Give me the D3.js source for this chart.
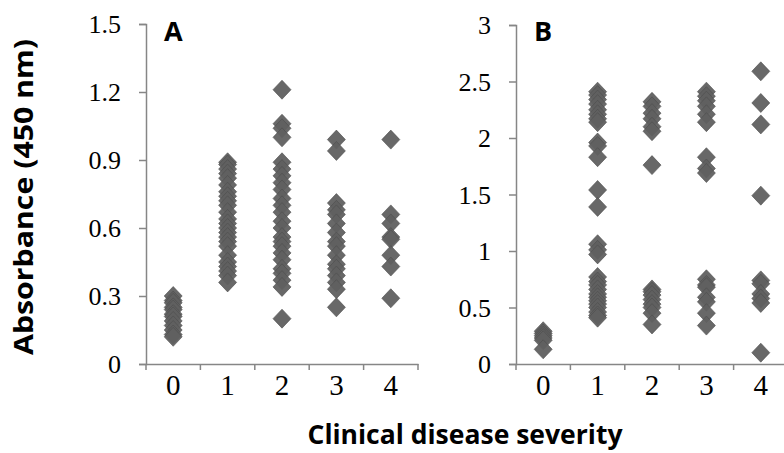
<!DOCTYPE html>
<html><head><meta charset="utf-8">
<script src="https://cdn.jsdelivr.net/npm/d3@7"></script>
<style>
html,body{margin:0;padding:0;background:#fff;}
svg{display:block;}
</style></head>
<body>
<svg id="chart" width="784" height="453"></svg>
<script>
// ---- data ----
const categories = ["0", "1", "2", "3", "4"];

const ticksA = [0, 0.3, 0.6, 0.9, 1.2, 1.5];
const ticksB = [0, 0.5, 1, 1.5, 2, 2.5, 3];

// Panel A values per severity group
const A0 = [0.30, 0.28, 0.27, 0.25, 0.24, 0.22, 0.21, 0.19, 0.17, 0.15, 0.13, 0.12];
const A1 = [0.89, 0.88, 0.86, 0.84, 0.82, 0.79, 0.76, 0.74, 0.72, 0.70, 0.67, 0.64, 0.62, 0.60, 0.58, 0.56, 0.54, 0.52, 0.48, 0.45, 0.43, 0.41, 0.39, 0.36];
const A2 = [1.21, 1.06, 1.04, 1.00, 0.89, 0.86, 0.83, 0.80, 0.77, 0.73, 0.70, 0.67, 0.63, 0.60, 0.56, 0.54, 0.52, 0.49, 0.46, 0.42, 0.40, 0.37, 0.34, 0.20];
const A3 = [0.99, 0.94, 0.71, 0.68, 0.66, 0.62, 0.58, 0.54, 0.52, 0.48, 0.44, 0.42, 0.39, 0.36, 0.33, 0.25];
const A4 = [0.99, 0.66, 0.62, 0.56, 0.55, 0.48, 0.43, 0.29];

// Panel B values per severity group
const B0 = [0.29, 0.27, 0.25, 0.23, 0.21, 0.13];
const B1 = [2.41, 2.38, 2.34, 2.30, 2.25, 2.21, 2.17, 2.14, 1.96, 1.93, 1.83, 1.54, 1.39, 1.06, 1.01, 0.97, 0.77, 0.73, 0.70, 0.66, 0.62, 0.59, 0.56, 0.53, 0.50, 0.46, 0.43, 0.41];
const B2 = [2.32, 2.28, 2.22, 2.17, 2.10, 2.06, 1.76, 0.66, 0.64, 0.61, 0.57, 0.53, 0.50, 0.45, 0.35];
const B3 = [2.41, 2.37, 2.33, 2.28, 2.21, 2.14, 1.83, 1.73, 1.69, 0.75, 0.70, 0.68, 0.59, 0.55, 0.45, 0.34];
const B4 = [2.59, 2.31, 2.12, 1.49, 0.74, 0.71, 0.62, 0.58, 0.54, 0.10];

const seriesA = [A0, A1, A2, A3, A4];
const seriesB = [B0, B1, B2, B3, B4];

// ---- drawing ----
const svg = d3.select("#chart");
const axisColor = "#868686";
const markFill = "#606060";
const serif = "'Liberation Serif', 'Times New Roman', serif";
const sans = "'Open Sans', 'Liberation Sans', sans-serif";

function panel(opts) {
  const x = d3.scaleBand().domain(categories).range([opts.left, opts.right]).padding(0);
  const y = d3.scaleLinear().domain([0, opts.max]).range([opts.bottom, opts.top]);
  const g = svg.append("g");

  // y axis
  const yAxis = d3.axisLeft(y).tickValues(opts.ticks).tickSize(7).tickPadding(18)
    .tickFormat(d3.format(""));
  const ya = g.append("g").attr("transform", `translate(${opts.left},0)`).call(yAxis);
  ya.select(".domain").attr("stroke", axisColor).attr("stroke-width", 1.5);
  ya.selectAll(".tick line").attr("stroke", axisColor).attr("stroke-width", 1.5);
  ya.selectAll(".tick text").attr("font-family", serif).attr("font-size", 26)
    .attr("fill", "#000").attr("dy", "0.33em");

  // x axis: line + boundary ticks + centered labels
  const xAxis = d3.axisBottom(x).tickSize(0).tickPadding(10);
  const xa = g.append("g").attr("transform", `translate(0,${opts.bottom})`).call(xAxis);
  xa.select(".domain").attr("stroke", axisColor).attr("stroke-width", 1.5);
  xa.selectAll(".tick text").attr("font-family", serif).attr("font-size", 29)
    .attr("fill", "#000").attr("dy", "0.72em");
  const bounds = categories.map(c => x(c)).concat([x.range()[1]]);
  g.selectAll(".btick").data(bounds).enter().append("line")
    .attr("x1", d => d).attr("x2", d => d)
    .attr("y1", opts.bottom).attr("y2", opts.bottom + 6)
    .attr("stroke", axisColor).attr("stroke-width", 1.5);

  // points
  const pts = [];
  opts.series.forEach((vals, i) => vals.forEach(v => pts.push({ c: categories[i], v })));
  g.selectAll(".pt").data(pts).enter().append("path")
    .attr("d", "M0,-9.5L9,0L0,9.5L-9,0Z")
    .attr("transform", d => `translate(${x(d.c) + x.bandwidth() / 2},${y(d.v)})`)
    .attr("fill", markFill).attr("stroke", "#4d4d4d").attr("stroke-width", 0.6)
    .attr("fill-opacity", 0.95);

  // panel letter
  g.append("text").attr("x", opts.left + 18).attr("y", 41)
    .attr("font-family", sans).attr("font-weight", "bold").attr("font-size", 27)
    .text(opts.letter);
}

panel({ left: 146, right: 418, top: 24, bottom: 364, max: 1.5, ticks: ticksA, series: seriesA, letter: "A" });
panel({ left: 516, right: 788, top: 25, bottom: 364, max: 3, ticks: ticksB, series: seriesB, letter: "B" });

// axis titles
svg.append("text")
  .attr("transform", "translate(33,197) rotate(-90)")
  .attr("text-anchor", "middle")
  .attr("font-family", sans).attr("font-weight", "bold").attr("font-size", 27)
  .attr("textLength", 316).attr("lengthAdjust", "spacingAndGlyphs")
  .text("Absorbance (450 nm)");

svg.append("text")
  .attr("x", 465).attr("y", 444)
  .attr("text-anchor", "middle")
  .attr("font-family", sans).attr("font-weight", "bold").attr("font-size", 26)
  .attr("textLength", 315).attr("lengthAdjust", "spacingAndGlyphs")
  .text("Clinical disease severity");
</script>
</body></html>
